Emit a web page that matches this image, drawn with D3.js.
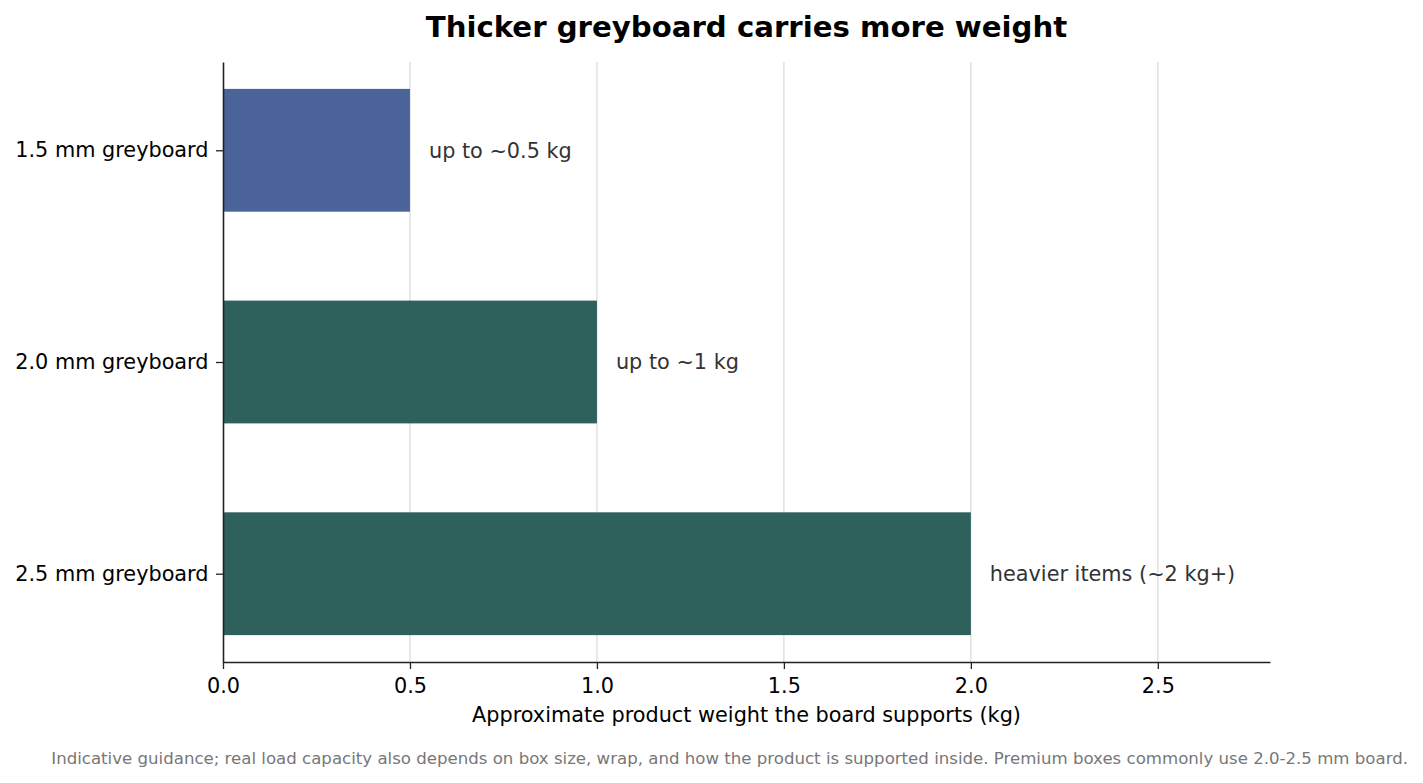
<!DOCTYPE html>
<html>
<head>
<meta charset="utf-8">
<script src="https://cdn.jsdelivr.net/npm/d3@7"></script>
<style>
  body { margin: 0; background: #fff; }
  svg { font-family: "DejaVu Sans", sans-serif; }
</style>
</head>
<body>
<script>
// chart data
const boards = ["1.5 mm greyboard", "2.0 mm greyboard", "2.5 mm greyboard"];
const weights = [0.5, 1.0, 2.0];
const notes = ["up to ~0.5 kg", "up to ~1 kg", "heavier items (~2 kg+)"];
const xTicks = [0.0, 0.5, 1.0, 1.5, 2.0, 2.5];

const width = 1423, height = 783;
const margin = { top: 62, right: 153, bottom: 121, left: 223 };
const innerW = width - margin.left - margin.right;
const innerH = height - margin.top - margin.bottom;

const svg = d3.select("body").append("svg")
  .attr("width", width)
  .attr("height", height);

const g = svg.append("g")
  .attr("transform", `translate(${margin.left},${margin.top})`);

const x = d3.scaleLinear().domain([0, 2.8]).range([0, innerW]);
// categories on a linear scale, like matplotlib barh positions
const y = d3.scaleLinear().domain([-0.417, boards.length - 1 + 0.417]).range([0, innerH]);
const barH = y(0.58) - y(0);

// vertical grid
g.selectAll(".grid")
  .data(xTicks.filter(d => d > 0))
  .enter().append("line")
  .attr("x1", d => x(d)).attr("x2", d => x(d))
  .attr("y1", 0).attr("y2", innerH)
  .attr("stroke", "#dcdcdc")
  .attr("stroke-width", 1.3);

// bars
g.selectAll(".bar")
  .data(weights)
  .enter().append("rect")
  .attr("x", x(0))
  .attr("y", (d, i) => y(i) - barH / 2)
  .attr("width", d => x(d) - x(0))
  .attr("height", barH)
  .attr("fill", (d, i) => i === 0 ? "#4a6399" : "#2e605c");

// value notes
g.selectAll(".note")
  .data(notes)
  .enter().append("text")
  .attr("x", (d, i) => x(weights[i]) + 19)
  .attr("y", (d, i) => y(i))
  .attr("dy", "0.35em")
  .attr("fill", "#333333")
  .attr("font-size", 20.8)
  .text(d => d);

// x axis
const xAxis = g.append("g")
  .attr("transform", `translate(0,${innerH})`)
  .call(d3.axisBottom(x).tickValues(xTicks).tickFormat(d3.format(".1f"))
    .tickSizeInner(7).tickSizeOuter(0));
xAxis.select(".domain").attr("stroke", "#222").attr("stroke-width", 1.6);
xAxis.selectAll(".tick line").attr("stroke", "#222").attr("stroke-width", 1.3);
xAxis.selectAll(".tick text").attr("font-size", 20.8).attr("fill", "#000")
  .attr("y", 30.5).attr("dy", null)
  .attr("font-family", "DejaVu Sans");

// y axis
const yAxis = g.append("g")
  .call(d3.axisLeft(y).tickValues(d3.range(boards.length)).tickFormat(i => boards[i])
    .tickSizeInner(7).tickSizeOuter(0).tickPadding(7.5));
yAxis.select(".domain").attr("stroke", "#222").attr("stroke-width", 1.6);
yAxis.selectAll(".tick line").attr("stroke", "#222").attr("stroke-width", 1.3);
yAxis.selectAll(".tick text").attr("font-size", 20.8).attr("fill", "#000")
  .attr("font-family", "DejaVu Sans");

// title
svg.append("text")
  .attr("x", margin.left + innerW / 2)
  .attr("y", 37)
  .attr("text-anchor", "middle")
  .attr("font-size", 29.2)
  .attr("font-weight", "bold")
  .text("Thicker greyboard carries more weight");

// x axis label
svg.append("text")
  .attr("x", margin.left + innerW / 2)
  .attr("y", 722)
  .attr("text-anchor", "middle")
  .attr("font-size", 20.8)
  .text("Approximate product weight the board supports (kg)");

// footnote
svg.append("text")
  .attr("x", 1408)
  .attr("y", 764)
  .attr("text-anchor", "end")
  .attr("font-size", 16.6)
  .attr("fill", "#777777")
  .text("Indicative guidance; real load capacity also depends on box size, wrap, and how the product is supported inside. Premium boxes commonly use 2.0-2.5 mm board.");
</script>
</body>
</html>
